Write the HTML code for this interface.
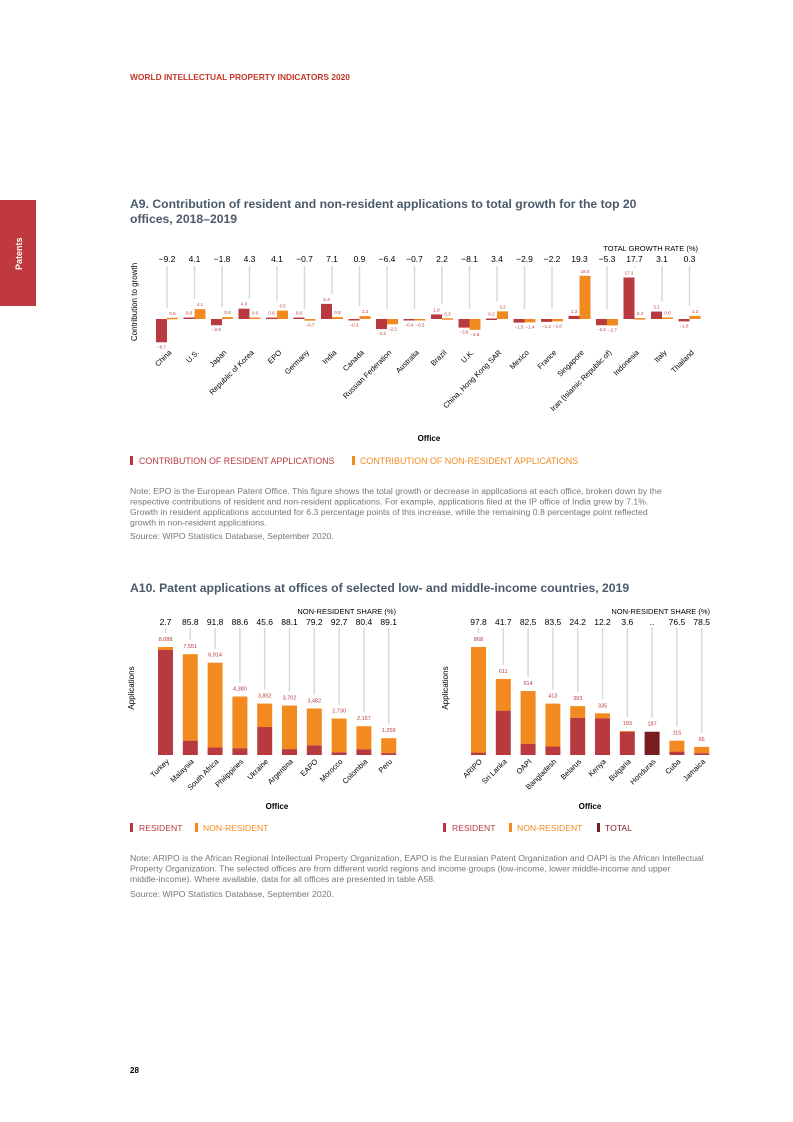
<!DOCTYPE html>
<html><head><meta charset="utf-8"><style>
body{margin:0;background:#fff;}
svg{display:block;font-family:"Liberation Sans",Arial,sans-serif;}
.note{font-size:8.7px;fill:#777;}
</style></head><body>
<svg id="page" width="793" height="1122" viewBox="0 0 793 1122" xmlns="http://www.w3.org/2000/svg">
<rect x="0" y="0" width="793" height="1122" fill="#fff"/>
<text x="130" y="80" font-size="8.4" font-weight="bold" fill="#c0392b">WORLD INTELLECTUAL PROPERTY INDICATORS 2020</text>
<rect x="0" y="200" width="36" height="106" fill="#c0393e"/>
<text transform="translate(22,270) rotate(-90)" font-size="9" font-weight="bold" fill="#fff">Patents</text>

<text font-size="12.2" font-weight="bold" fill="#4a5a6a"><tspan x="130" y="208">A9. Contribution of resident and non-resident applications to total growth for the top 20</tspan><tspan x="130" y="223">offices, 2018–2019</tspan></text>
<text x="698" y="251" font-size="7.5" text-anchor="end" fill="#000">TOTAL GROWTH RATE (%)</text>
<text transform="translate(137,302) rotate(-90)" font-size="8" text-anchor="middle" fill="#000">Contribution to growth</text>
<g id="a9"></g>
<text x="429" y="441" font-size="8" font-weight="bold" text-anchor="middle">Office</text>
<rect x="130" y="456" width="3" height="9" fill="#b83a3f"/>
<text x="139" y="464" font-size="8.9" fill="#b83a3f">CONTRIBUTION OF RESIDENT APPLICATIONS</text>
<rect x="352" y="456" width="3" height="9" fill="#f38a20"/>
<text x="360" y="464" font-size="8.9" fill="#f38a20">CONTRIBUTION OF NON-RESIDENT APPLICATIONS</text>
<text class="note"><tspan x="130" y="494">Note: EPO is the European Patent Office. This figure shows the total growth or decrease in applications at each office, broken down by the</tspan><tspan x="130" y="504.5">respective contributions of resident and non-resident applications. For example, applications filed at the IP office of India grew by 7.1%.</tspan><tspan x="130" y="515">Growth in resident applications accounted for 6.3 percentage points of this increase, while the remaining 0.8 percentage point reflected</tspan><tspan x="130" y="525.5">growth in non-resident applications.</tspan></text>
<text class="note" x="130" y="539">Source: WIPO Statistics Database, September 2020.</text>

<text x="130" y="592" font-size="12.2" font-weight="bold" fill="#4a5a6a">A10. Patent applications at offices of selected low- and middle-income countries, 2019</text>
<g id="a10l"></g>
<g id="a10r"></g>
<rect x="130" y="823" width="3" height="9" fill="#b83a3f"/>
<text x="139" y="831" font-size="8.6" fill="#b83a3f">RESIDENT</text>
<rect x="195" y="823" width="3" height="9" fill="#f38a20"/>
<text x="203" y="831" font-size="8.6" fill="#f38a20">NON-RESIDENT</text>
<rect x="443" y="823" width="3" height="9" fill="#b83a3f"/>
<text x="452" y="831" font-size="8.6" fill="#b83a3f">RESIDENT</text>
<rect x="509" y="823" width="3" height="9" fill="#f38a20"/>
<text x="517" y="831" font-size="8.6" fill="#f38a20">NON-RESIDENT</text>
<rect x="597" y="823" width="3" height="9" fill="#7a1c22"/>
<text x="605" y="831" font-size="8.6" fill="#7a1c22">TOTAL</text>
<text class="note"><tspan x="130" y="861">Note: ARIPO is the African Regional Intellectual Property Organization, EAPO is the Eurasian Patent Organization and OAPI is the African Intellectual</tspan><tspan x="130" y="871.5">Property Organization. The selected offices are from different world regions and income groups (low-income, lower middle-income and upper</tspan><tspan x="130" y="882">middle-income). Where available, data for all offices are presented in table A58.</tspan></text>
<text class="note" x="130" y="897">Source: WIPO Statistics Database, September 2020.</text>
<text x="130" y="1073" font-size="8" font-weight="bold">28</text>
</svg>
<script>
const a9Offices=["China","U.S.","Japan","Republic of Korea","EPO","Germany","India","Canada","Russian Federation","Australia","Brazil","U.K.","China, Hong Kong SAR","Mexico","France","Singapore","Iran (Islamic Republic of)","Indonesia","Italy","Thailand"];
const a9Total=[-9.2,4.1,-1.8,4.3,4.1,-0.7,7.1,0.9,-6.4,-0.7,2.2,-8.1,3.4,-2.9,-2.2,19.3,-5.3,17.7,3.1,0.3];
const a9Resident=[-9.7,0.0,-2.6,4.3,0.6,0.0,6.3,-0.3,-4.2,-0.4,1.9,-3.6,0.2,-1.5,-1.2,1.3,-2.6,17.3,3.1,-1.0];
const a9NonResident=[0.5,4.1,0.8,0.0,3.5,-0.7,0.8,1.2,-2.2,-0.3,0.3,-4.5,3.2,-1.4,-1.0,18.0,-2.7,0.4,0.0,1.3];

const a10LeftOffices=["Turkey","Malaysia","South Africa","Philippines","Ukraine","Argentina","EAPO","Morocco","Colombia","Peru"];
const a10LeftTotal=[8088,7551,6914,4380,3852,3702,3482,2730,2157,1259];
const a10LeftShare=[2.7,85.8,91.8,88.6,45.6,88.1,79.2,92.7,80.4,89.1];
const a10RightOffices=["ARIPO","Sri Lanka","OAPI","Bangladesh","Belarus","Kenya","Bulgaria","Honduras","Cuba","Jamaica"];
const a10RightTotal=[868,611,514,413,393,335,193,187,115,65];
const a10RightShare=[97.8,41.7,82.5,83.5,24.2,12.2,3.6,null,76.5,78.5];

const NS="http://www.w3.org/2000/svg";
const RED="#b83a3f",ORG="#f38a20",DARK="#7a1c22";
function mk(parent,tag,attrs,txt){const e=document.createElementNS(NS,tag);for(const k in attrs)e.setAttribute(k,attrs[k]);if(txt!==undefined)e.textContent=txt;parent.appendChild(e);return e;}
function fmt(v){return (v<0?"\u2212":"")+Math.abs(v).toFixed(1);}

// A9
(function(){
 const g=document.getElementById('a9');
 const x0=167,step=27.5,zero=319,k=2.4,bw=11;
 const xs=i=>x0+i*step, ys=v=>zero-v*k;
 a9Offices.forEach((name,i)=>{
  const cx=xs(i);
  const r=a9Resident[i],n=a9NonResident[i];
  const lineEnd=Math.min(ys(Math.max(r,n,0)),zero)-10;
  const ln=mk(g,'line',{x1:cx,y1:266,x2:cx,y2:lineEnd,stroke:'#d8d8d8','stroke-width':1.5});
  
  
  const t=mk(g,'text',{x:cx,y:262,'font-size':8.5,'text-anchor':'middle',fill:'#000'},fmt(a9Total[i]));
  
  
  [[r,cx-bw,RED,'resident'],[n,cx,ORG,'nonresident']].forEach(([v,bx,c,kind])=>{
   const h=Math.max(Math.abs(v)*k,1.5);
   const y=v>=0?ys(v)-(v===0?1.5:0):zero;
   const b=mk(g,'rect',{x:bx,y:y,width:bw,height:h,fill:c});
   
   
   const ly=v>=0?y-3:zero+h+6;
   const l=mk(g,'text',{x:bx+bw/2,y:ly,'font-size':4.5,'text-anchor':'middle',fill:RED},fmt(v));
   
   
  });
  const lab=mk(g,'text',{transform:`translate(${cx+5},353) rotate(-45)`,'font-size':7.5,'text-anchor':'end',fill:'#000'},name);
  
  
 });
})();

// A10
function a10(id,x0,offices,totals,shares,maxScale,titleX,ylabX,officeX){
 const g=document.getElementById(id);
 const step=24.8,bw=15,base=755,k=108/maxScale;
 const xs=i=>x0+i*step, ys=v=>base-v*k;
 const ht=mk(g,'text',{x:titleX,y:614,'font-size':7.5,'text-anchor':'end'},'NON-RESIDENT SHARE (%)');
 
 
 const yt=mk(g,'text',{transform:`translate(${ylabX},688) rotate(-90)`,'font-size':8,'text-anchor':'middle'},'Applications');
 
 
 const ot=mk(g,'text',{x:officeX,y:809,'font-size':8,'font-weight':'bold','text-anchor':'middle'},'Office');
 
 
 offices.forEach((name,i)=>{
  const bx=xs(i),cx=bx+bw/2,tot=totals[i],sh=shares[i];
  const top=ys(tot);
  const ln=mk(g,'line',{x1:cx,y1:628,x2:cx,y2:top-14,stroke:'#d8d8d8','stroke-width':1.5});
  
  
  const st=mk(g,'text',{x:cx,y:625,'font-size':8.5,'text-anchor':'middle'},sh===null?'..':sh.toFixed(1));
  
  
  if(sh===null){
   const b=mk(g,'rect',{x:bx,y:top,width:bw,height:base-top,fill:DARK});
   
   
  } else {
   const res=tot*(1-sh/100);
   const yr=ys(res);
   const b1=mk(g,'rect',{x:bx,y:top,width:bw,height:yr-top,fill:ORG});
   
   
   const b2=mk(g,'rect',{x:bx,y:yr,width:bw,height:base-yr,fill:RED});
   
   
  }
  const vl=mk(g,'text',{x:cx,y:top-6,'font-size':5.5,'text-anchor':'middle',fill:RED},tot.toLocaleString('en-US'));
  
  
  const lab=mk(g,'text',{transform:`translate(${cx+4},762) rotate(-45)`,'font-size':7.5,'text-anchor':'end'},name);
  
  
 });
}
a10('a10l',158,a10LeftOffices,a10LeftTotal,a10LeftShare,8088,396,134,277);
a10('a10r',471,a10RightOffices,a10RightTotal,a10RightShare,868,710,448,590);
</script>
</body></html>
